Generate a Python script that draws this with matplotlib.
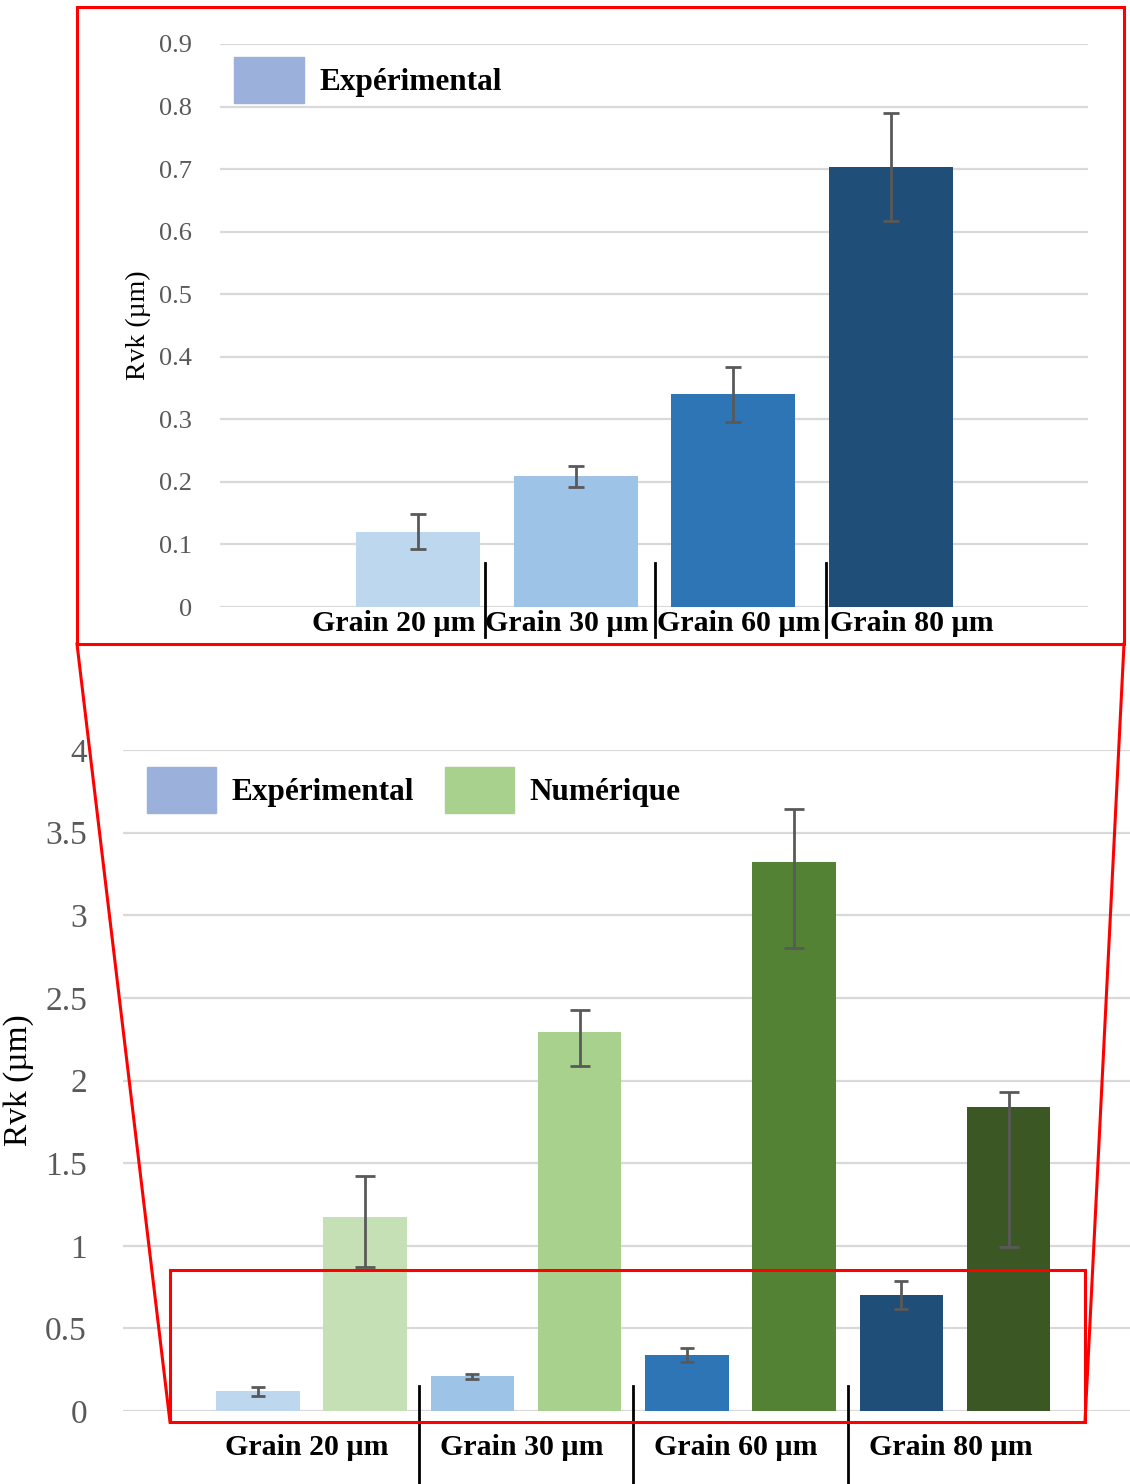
import numpy as np
import matplotlib
matplotlib.use('Agg')
import matplotlib.pyplot as plt
from matplotlib.patches import Patch, Rectangle
from matplotlib.lines import Line2D

plt.rcParams['font.family'] = ['Liberation Serif', 'DejaVu Serif']

categories = ['Grain 20 µm', 'Grain 30 µm', 'Grain 60 µm', 'Grain 80 µm']
exp_values = [0.12, 0.209, 0.34, 0.703]
exp_err = [0.028, 0.017, 0.044, 0.086]
num_values = [1.172, 2.294, 3.32, 1.841]
num_err_low = [0.301, 0.206, 0.52, 0.85]
num_err_high = [0.252, 0.133, 0.323, 0.088]

exp_colors = ['#BDD7EE', '#9DC3E6', '#2E75B6', '#1F4E79']
num_colors = ['#C5E0B4', '#A9D18E', '#548235', '#3A5724']
legend_exp = '#9BB0DA'
legend_num = '#A9D18E'
grid_col = '#D9D9D9'
tick_col = '#595959'
err_col = '#595959'

W, H = 1130, 1484
fig = plt.figure(figsize=(W / 100, H / 100), dpi=100)


def px_box(x0, y0, x1, y1):
    # pixel box (top-left origin) -> figure fraction [left, bottom, w, h]
    return [x0 / W, 1 - y1 / H, (x1 - x0) / W, (y1 - y0) / H]


def clean(ax):
    for s in ax.spines.values():
        s.set_visible(False)
    ax.tick_params(axis='both', length=0)
    ax.yaxis.grid(True, color=grid_col, linewidth=1.6)
    ax.set_axisbelow(True)
    ax.set_xticks([])


x = np.arange(len(categories))

# ---- top chart (zoom on experimental values)
ax1 = fig.add_axes(px_box(220, 44, 1088, 607))
clean(ax1)
ax1.bar(x, exp_values, width=0.786, color=exp_colors, zorder=2)
ax1.errorbar(x, exp_values, yerr=exp_err, fmt='none', ecolor=err_col,
             elinewidth=2, capsize=6, capthick=2, zorder=3)
ax1.set_xlim(-1.256, 4.25)
ax1.set_ylim(0, 0.9)
ax1.set_yticks(np.arange(0, 0.91, 0.1))
ax1.set_yticklabels(['0'] + [f'{v:.1f}' for v in np.arange(0.1, 0.91, 0.1)])
ax1.tick_params(axis='y', labelsize=19, labelcolor=tick_col, pad=20)
ax1.set_ylabel('Rvk (µm)', fontsize=20, labelpad=6)
# labels sit in slots slightly wider than the bar spacing
for i, c in enumerate(categories):
    ax1.text(i - 0.152 + 0.094 * i, -0.005, c, ha='center', va='top',
             fontsize=21.5, fontweight='bold')
for i in range(3):
    ax1.plot([0.425 + 1.081 * i] * 2, [-0.048, 0.07], color='black',
             lw=2, clip_on=False, zorder=4)
ax1.legend(handles=[Patch(color=legend_exp, label='Expérimental')],
           loc='upper left', bbox_to_anchor=(-0.006, 1.01), frameon=False,
           prop={'size': 22.5, 'weight': 'bold'}, handlelength=2.25,
           handleheight=1.9, handletextpad=0.5, borderaxespad=0.2)

# ---- bottom chart (both series)
ax2 = fig.add_axes(px_box(123, 750, 1130, 1411))
clean(ax2)
w = 0.39
ax2.bar(x - 0.25, exp_values, width=w, color=exp_colors, zorder=2)
ax2.bar(x + 0.25, num_values, width=w, color=num_colors, zorder=2)
ax2.errorbar(x - 0.25, exp_values, yerr=exp_err, fmt='none', ecolor=err_col,
             elinewidth=2, capsize=5, capthick=2, zorder=3)
ax2.errorbar(x + 0.25, num_values, yerr=[num_err_low, num_err_high],
             fmt='none', ecolor=err_col, elinewidth=2, capsize=7,
             capthick=2, zorder=3)
ax2.set_xlim(-0.879, 3.816)
ax2.set_ylim(0, 4)
ax2.set_yticks(np.arange(0, 4.01, 0.5))
ax2.set_yticklabels(['0', '0.5', '1', '1.5', '2', '2.5', '3', '3.5', '4'])
ax2.tick_params(axis='y', labelsize=24, labelcolor=tick_col, pad=26)
ax2.set_ylabel('Rvk (µm)', fontsize=24, labelpad=8)
for i, c in enumerate(categories):
    ax2.text(i - 0.02, -0.14, c, ha='center', va='top', fontsize=21.5,
             fontweight='bold')
for i in range(3):
    ax2.plot([i + 0.5] * 2, [-0.45, 0.15], color='black', lw=2,
             clip_on=False, zorder=4)
ax2.legend(handles=[Patch(color=legend_exp, label='Expérimental'),
                    Patch(color=legend_num, label='Numérique')],
           loc='upper left', bbox_to_anchor=(0.005, 1.003), ncol=2,
           frameon=False, prop={'size': 22.5, 'weight': 'bold'},
           handlelength=2.2, handleheight=1.9, handletextpad=0.5,
           columnspacing=1.0, borderaxespad=0.2)

# ---- red zoom frame
def px(xp, yp):
    return xp / W, 1 - yp / H

red = '#FF0000'
for (x0, y0, x1, y1) in [(77, 7, 1124, 644), (170, 1270, 1085, 1422)]:
    l, b, ww, hh = px_box(x0, y0, x1, y1)
    fig.add_artist(Rectangle((l, b), ww, hh, transform=fig.transFigure,
                             fill=False, edgecolor=red, lw=2.2, zorder=10))
for (xa, ya, xb, yb) in [(77, 644, 170, 1422), (1124, 644, 1085, 1422)]:
    (fx0, fy0), (fx1, fy1) = px(xa, ya), px(xb, yb)
    fig.add_artist(Line2D([fx0, fx1], [fy0, fy1], transform=fig.transFigure,
                          color=red, lw=2.2, zorder=10))

fig.savefig('out.png', dpi=100)
